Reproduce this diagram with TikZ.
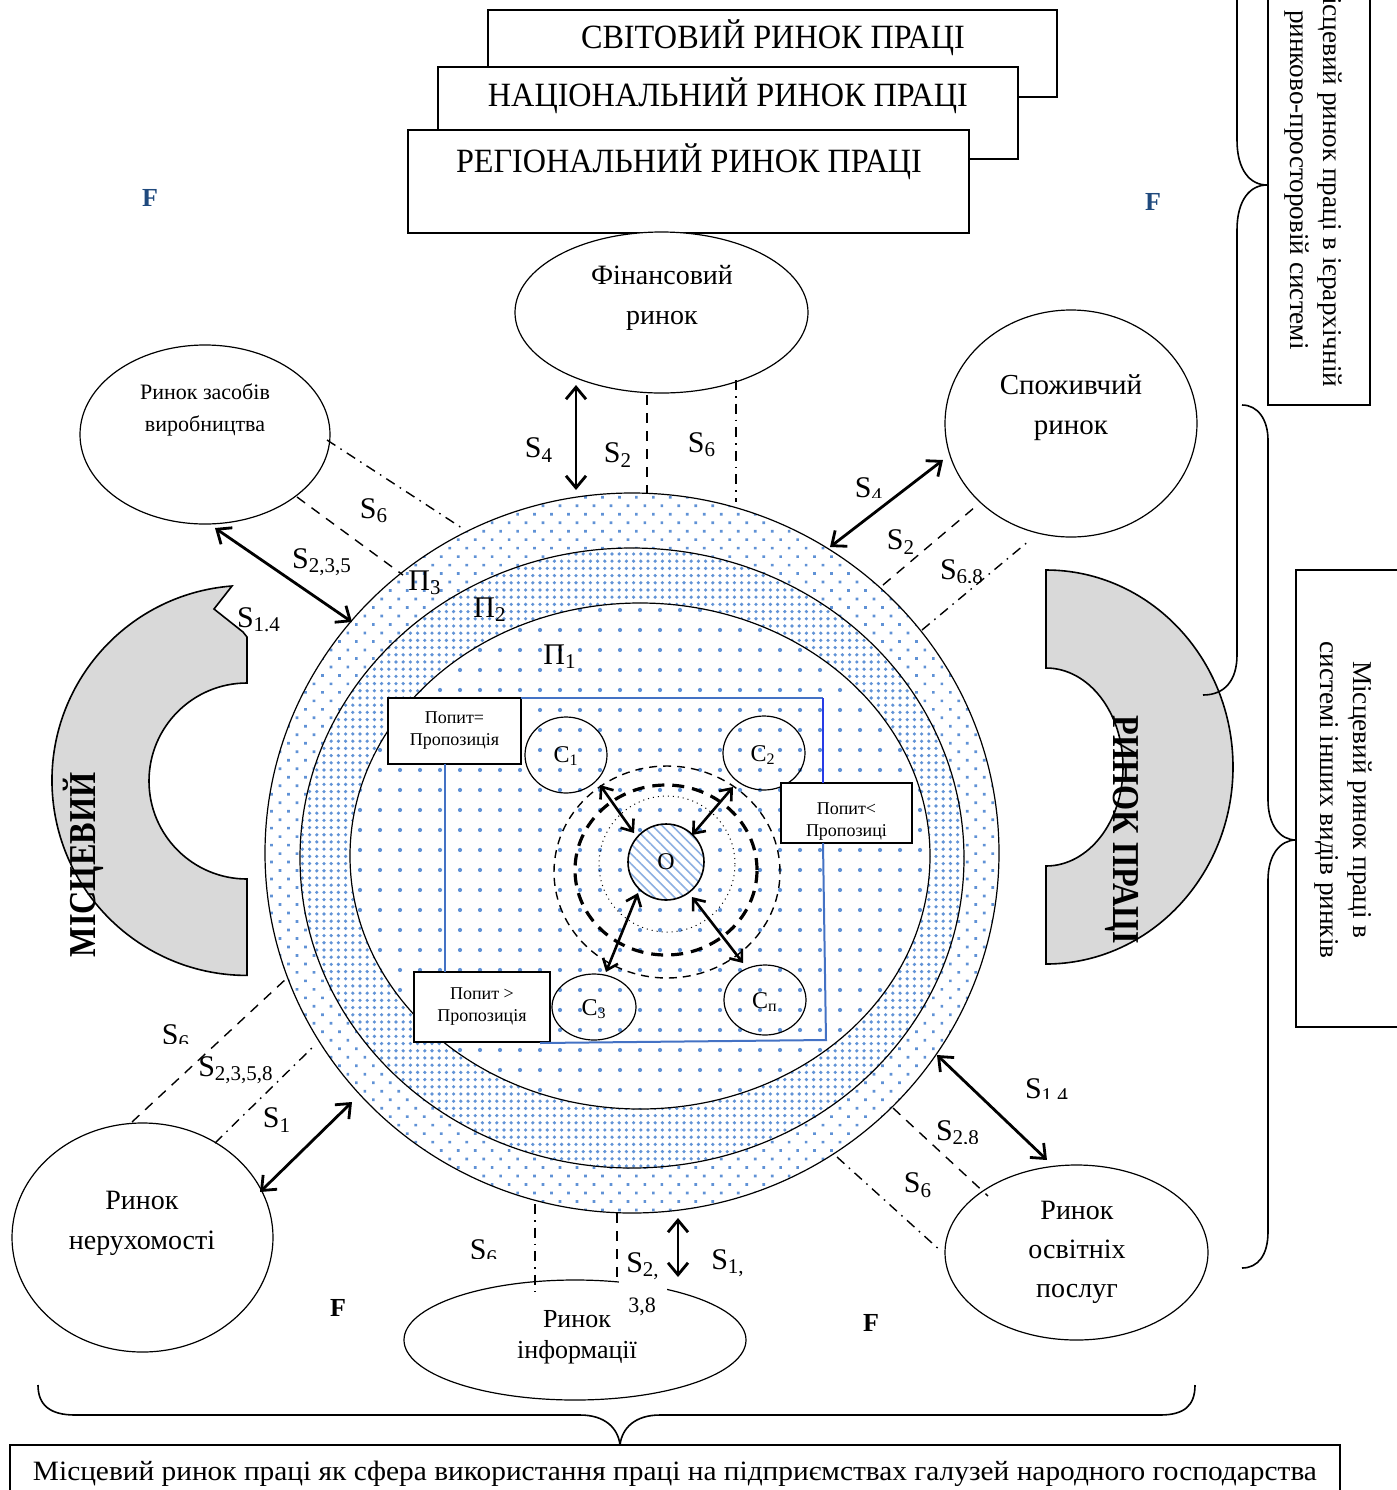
\documentclass[tikz,border=0pt]{standalone}
\usepackage{fontspec}
\setmainfont{Liberation Serif}
\usepackage{graphicx}
\usetikzlibrary{arrows.meta,patterns.meta,shapes.geometric}

\definecolor{dotblue}{RGB}{96,146,214}
\definecolor{hatchblue}{RGB}{140,175,225}
\definecolor{frameblue}{RGB}{68,114,196}
\definecolor{framepure}{RGB}{40,60,230}
\definecolor{navyF}{RGB}{31,73,125}
\definecolor{bandgrey}{RGB}{217,217,217}

\newcommand{\Sx}[1]{S\textsubscript{#1}}
\newcommand{\Px}[1]{П\textsubscript{#1}}
\newcommand{\Cx}[1]{С\textsubscript{#1}}

\begin{document}
\begin{tikzpicture}[x=0.5pt,y=-0.5pt,
  every node/.style={inner sep=0pt,outer sep=0pt},
  levelbox/.style={draw,line width=1pt,fill=white},
  levtext/.style={font=\fontsize{17}{20}\selectfont},
  market/.style={draw,ellipse,line width=0.6pt,fill=white},
  mtext/.style={align=center,font=\fontsize{14}{20}\selectfont},
  ring/.style={draw,ellipse,line width=0.6pt},
  cell/.style={draw,ellipse,line width=0.6pt},
  pbox/.style={draw,line width=0.6pt,fill=white},
  ptext/.style={align=center,font=\fontsize{9}{11}\selectfont},
  rel/.style={line width=1.4pt,{Straight Barb[length=6pt,width=10pt]}-{Straight Barb[length=6pt,width=10pt]}},
  inrel/.style={line width=1.3pt,{Straight Barb[length=5pt,width=8pt]}-{Straight Barb[length=5pt,width=8pt]}},
  dashlink/.style={line width=0.7pt,dash pattern=on 5pt off 4pt},
  dotlink/.style={line width=0.7pt,dash pattern=on 5pt off 3pt on 0.8pt off 3pt},
  slab/.style={font=\fontsize{15}{17}\selectfont},
  clab/.style={font=\fontsize{12}{14}\selectfont},
  flab/.style={font=\bfseries\fontsize{13}{15}\selectfont},
  frame/.style={frameblue,line width=1pt},
  brace/.style={line width=0.8pt},
  sidebox/.style={draw,line width=1pt,fill=white},
  sidetext/.style={align=center,font=\fontsize{13.6}{16.5}\selectfont},
  band/.style={draw,line width=0.8pt,fill=bandgrey},
  bandtext/.style={font=\bfseries\fontsize{19}{20}\selectfont}
]
\useasboundingbox (0,0) rectangle (1397,1490);
\clip (0,0) rectangle (1397,1490);

% ---------- levels of the labour market ----------
\node[levelbox,minimum width=284.5pt,minimum height=43.5pt] (world) at (772.5,53.5) {};
\node[levtext] (worldt) at (773,38) {\resizebox{192pt}{\height}{СВІТОВИЙ РИНОК ПРАЦІ}};
\node[levelbox,minimum width=290pt,minimum height=46pt] (nation) at (728,113) {};
\node[levtext] (nationt) at (728,96) {\resizebox{240pt}{\height}{НАЦІОНАЛЬНИЙ РИНОК ПРАЦІ}};
\node[levelbox,minimum width=280.5pt,minimum height=51.5pt] (region) at (688.5,181.5) {};
\node[levtext] (regiont) at (689,162) {\resizebox{233pt}{\height}{РЕГІОНАЛЬНИЙ РИНОК ПРАЦІ}};

% ---------- grey half rings ----------
\draw[band] (247,976) -- (247,879) arc[start angle=90,end angle=270,radius=98]
  -- (247,637) -- (243,632) -- (214,609) -- (232,586)
  arc[start angle=265.6,end angle=90,radius=195] -- cycle;
\draw[band] (1046,570) arc[start angle=270,end angle=450,x radius=187,y radius=197]
  -- (1046,866) arc[start angle=90,end angle=-90,x radius=77,y radius=99] -- cycle;
\node[bandtext,rotate=90] (loc) at (83,865) {\scalebox{0.85}[1]{МІСЦЕВИЙ}};
\node[bandtext,rotate=-90] (lab) at (1122,830) {\scalebox{0.85}[1]{РИНОК ПРАЦІ}};

% ---------- side boxes and braces ----------
\node[sidebox,minimum width=51pt,minimum height=205pt] (hier) at (1319,200) {};
\node[sidetext,rotate=-90] (hiert) at (1313,180) {Місцевий ринок праці в ієрархічній\\ринково-просторовій системі};
\node[sidebox,minimum width=52pt,minimum height=228.5pt] (other) at (1348,798.5) {};
\node[sidetext,rotate=-90] (othert) at (1343,800) {Місцевий ринок праці в\\системі інших видів ринків};

\draw[brace] (1237,-5) -- (1237,140) .. controls (1237,170) and (1250,185) .. (1267,185)
  .. controls (1250,185) and (1237,200) .. (1237,230) -- (1237,655)
  .. controls (1237,680) and (1225,695) .. (1203,695);
\draw[brace] (1242,405) .. controls (1258,405) and (1268,420) .. (1268,440) -- (1268,800)
  .. controls (1268,825) and (1280,840) .. (1296,840)
  .. controls (1280,840) and (1268,855) .. (1268,880) -- (1268,1232)
  .. controls (1268,1255) and (1258,1268) .. (1242,1268);

% ---------- neighbouring markets ----------
\node[market,minimum width=146.5pt,minimum height=80.5pt] (fin) at (661.5,312.5) {};
\node[mtext] (fint) at (662,298) {Фінансовий\\ринок};
\node[market,minimum width=125pt,minimum height=89.5pt] (prod) at (205,434.5) {};
\node[mtext,font=\fontsize{11}{16}\selectfont] (prodt) at (205,410) {Ринок засобів\\виробництва};
\node[market,minimum width=126pt,minimum height=113.5pt] (cons) at (1071,423.5) {};
\node[mtext,font=\fontsize{14.5}{20}\selectfont] (const) at (1071,408) {Споживчий\\ринок};
\node[market,minimum width=130.5pt,minimum height=114.5pt] (real) at (142.5,1237.5) {};
\node[mtext] (realt) at (142,1223) {Ринок\\нерухомості};
\node[market,minimum width=131.5pt,minimum height=87.5pt] (edu) at (1076.5,1252.5) {};
\node[mtext,font=\fontsize{14}{19.5}\selectfont] (edut) at (1077,1252) {Ринок\\освітніх\\послуг};
\node[market,minimum width=171pt,minimum height=60pt] (info) at (575,1340) {};
\node[mtext,font=\fontsize{13}{15.5}\selectfont] (infot) at (577,1337) {Ринок\\інформації};

% ---------- local labour market: three zones ----------
\node[ring,minimum width=367pt,minimum height=360pt,preaction={fill=white},
  pattern={Dots[distance=6pt,radius=0.95pt,angle=45]},pattern color=dotblue] (z3) at (632,853) {};
\node[ring,minimum width=332pt,minimum height=310pt,preaction={fill=white},
  pattern={Dots[distance=3.6pt,radius=0.9pt]},pattern color=dotblue] (z2) at (632,858) {};
\node[ring,minimum width=290pt,minimum height=253pt,preaction={fill=white},
  pattern={Dots[distance=10pt,radius=1.05pt]},pattern color=dotblue] (z1) at (640,856) {};
\node[slab] (p3) at (425,583) {\Px{3}};
\node[slab] (p2) at (490,610) {\Px{2}};
\node[slab] (p1) at (560,657) {\Px{1}};

% ---------- centre ----------
\node[draw,ellipse,line width=0.7pt,dash pattern=on 4pt off 3pt,minimum width=113pt,minimum height=106pt] (orb3) at (667,872) {};
\node[draw,ellipse,line width=1.6pt,dash pattern=on 6pt off 4pt,minimum width=91pt,minimum height=85pt] (orb2) at (666,870) {};
\node[draw,circle,dotted,line width=0.5pt,minimum size=68pt] (orb1) at (667,864) {};
\node[draw,circle,line width=0.8pt,minimum size=38pt,preaction={fill=white},
  pattern={Lines[angle=-45,distance=3.5pt,line width=0.8pt]},pattern color=hatchblue] (O) at (666,862) {};
\node[clab] (Ot) at (666,862) {О};

\node[cell,minimum width=41pt,minimum height=38pt] (c1) at (566,755) {};
\node[clab] at (566,756) {\Cx{1}};
\node[cell,minimum width=41pt,minimum height=37pt] (c2) at (764,753) {};
\node[clab] at (763,755) {\Cx{2}};
\node[cell,minimum width=42pt,minimum height=33pt] (c3) at (594,1007) {};
\node[clab] at (594,1009) {\Cx{3}};
\node[cell,minimum width=41pt,minimum height=35pt] (cn) at (765,1000) {};
\node[clab] at (765,1002) {\Cx{п}};

\draw[inrel] (600,785) -- (634,833);
\draw[inrel] (733,787) -- (692,835);
\draw[inrel] (606,972) -- (638,893);
\draw[inrel] (743,963) -- (692,897);

% ---------- supply / demand boxes ----------
\node[pbox,minimum width=66.5pt,minimum height=33pt] (eq) at (454.5,731) {};
\node[ptext] (eqt) at (454.5,731) {Попит=\\Пропозиція};
\node[pbox,minimum width=65.5pt,minimum height=30pt] (lt) at (846.5,813) {};
\begin{scope}
  \clip (781,783) rectangle (912,843);
  \node[ptext] (ltt) at (846.5,822) {Попит<\\Пропозиці};
\end{scope}
\node[draw,line width=0.6pt,minimum width=65.5pt,minimum height=30pt] (ltb) at (846.5,813) {};
\node[pbox,minimum width=68pt,minimum height=35pt] (gt) at (482,1007) {};
\node[ptext] (gtt) at (482,1007) {Попит >\\Пропозиція};

\coordinate (fTR) at (823,698);
\coordinate (fR1) at (823,843);
\coordinate (fBR) at (826,1040);
\coordinate (fBL) at (540,1043);
\coordinate (fL1) at (445,764);
\coordinate (fL2) at (445,972);
\draw[frame] (eq.north east) -- (fTR);
\draw[framepure,line width=1pt] (fTR) -- (fTR |- lt.north);
\draw[frame] (fR1) -- (fBR) -- (fBL);
\draw[frame] (fL1) -- (fL2);

% ---------- links: financial market ----------
\coordinate (a1) at (576,385); \coordinate (a2) at (576,490);
\coordinate (b1) at (647,395); \coordinate (b2) at (647,493);
\coordinate (d1) at (736,380); \coordinate (d2) at (736,502);
\draw[rel] (a1) -- (a2);
\draw[dashlink] (b1) -- (b2);
\draw[dotlink] (d1) -- (d2);
\node[slab] at (539,450) {\Sx{4}};
\node[slab] at (618,455) {\Sx{2}};
\node[slab] at (702,445) {\Sx{6}};

% ---------- links: means of production ----------
\coordinate (a3) at (215,528); \coordinate (a4) at (352,622);
\coordinate (b3) at (297,497); \coordinate (b4) at (403,575);
\coordinate (d3) at (327,440); \coordinate (d4) at (465,530);
\draw[rel] (a3) -- (a4);
\draw[dashlink] (b3) -- (b4);
\draw[dotlink] (d3) -- (d4);
\node[slab] at (374,511) {\Sx{6}};
\node[slab] at (322,562) {\Sx{2,3,5}};
\node[slab] at (259,620) {\Sx{1.4}};

% ---------- links: consumer market ----------
\coordinate (a5) at (830,547); \coordinate (a6) at (943,460);
\coordinate (b5) at (883,585); \coordinate (b6) at (975,507);
\coordinate (d5) at (922,630); \coordinate (d6) at (1030,540);
\draw[rel] (a5) -- (a6);
\draw[dashlink] (b5) -- (b6);
\draw[dotlink] (d5) -- (d6);
\begin{scope}
  \clip (840,460) rectangle (900,497);
  \node[slab] at (869,490) {\Sx{4}};
\end{scope}
\node[slab] at (901,542) {\Sx{2}};
\begin{scope}
  \clip (930,550) rectangle (1000,582);
  \node[slab] at (962,573) {\Sx{6,8}};
\end{scope}

% ---------- links: education services ----------
\coordinate (a7) at (937,1055); \coordinate (a8) at (1047,1160);
\coordinate (b7) at (893,1108); \coordinate (b8) at (988,1196);
\coordinate (d7) at (837,1157); \coordinate (d8) at (942,1252);
\draw[rel] (a7) -- (a8);
\draw[dashlink] (b7) -- (b8);
\draw[dotlink] (d7) -- (d8);
\begin{scope}
  \clip (1020,1070) rectangle (1080,1098);
  \node[slab] at (1047,1092) {\Sx{1,4}};
\end{scope}
\begin{scope}
  \clip (930,1110) rectangle (990,1143);
  \node[slab] at (958,1134) {\Sx{2,8}};
\end{scope}
\node[slab] at (918,1185) {\Sx{6}};

% ---------- links: real estate ----------
\coordinate (a9) at (260,1192); \coordinate (a10) at (352,1102);
\coordinate (b9) at (132,1122); \coordinate (b10) at (287,978);
\coordinate (d9) at (215,1143); \coordinate (d10) at (314,1046);
\draw[rel] (a9) -- (a10);
\draw[dashlink] (b9) -- (b10);
\draw[dotlink] (d9) -- (d10);
\begin{scope}
  \clip (150,1015) rectangle (200,1043);
  \node[slab] at (176,1037) {\Sx{6}};
\end{scope}
\node[slab] at (236,1070) {\Sx{2,3,5,8}};
\node[slab] at (277,1120) {\Sx{1}};

% ---------- links: information market ----------
\coordinate (a11) at (678,1218); \coordinate (a12) at (678,1277);
\coordinate (b11) at (617,1213); \coordinate (b12) at (617,1280);
\coordinate (d11) at (535,1204); \coordinate (d12) at (535,1298);
\node[fill=white,minimum width=24pt,minimum height=38pt] (s238) at (643,1285) {};
\draw[rel] (a11) -- (a12);
\draw[dashlink] (b11) -- (b12);
\draw[dotlink] (d11) -- (d12);
\begin{scope}
  \clip (460,1230) rectangle (510,1258);
  \node[slab] at (484,1252) {\Sx{6}};
\end{scope}
\node[slab] at (643,1266) {\Sx{2,}};
\node[font=\fontsize{11}{12}\selectfont] at (642,1307) {3,8};
\node[slab] at (728,1263) {\Sx{1,}};

% ---------- environment factors ----------
\node[flab,text=navyF] (f1) at (150,198) {F};
\node[flab,text=navyF] (f2) at (1153,202) {F};
\node[flab] (f3) at (338,1308) {F};
\node[flab] (f4) at (871,1323) {F};

% ---------- bottom brace and box ----------
\draw[brace] (38,1385) .. controls (38,1405) and (50,1415) .. (75,1415) -- (580,1415)
  .. controls (605,1415) and (618,1428) .. (620,1445)
  .. controls (622,1428) and (635,1415) .. (660,1415) -- (1160,1415)
  .. controls (1185,1415) and (1195,1405) .. (1195,1385);
\node[draw,line width=1pt,fill=white,minimum width=665pt,minimum height=30pt] (sphere) at (675,1475) {};
\node[font=\fontsize{14}{16}\selectfont] (spheret) at (675,1474) {\resizebox{642pt}{\height}{Місцевий ринок праці як сфера використання праці на підприємствах галузей народного господарства}};
\end{tikzpicture}
\end{document}
